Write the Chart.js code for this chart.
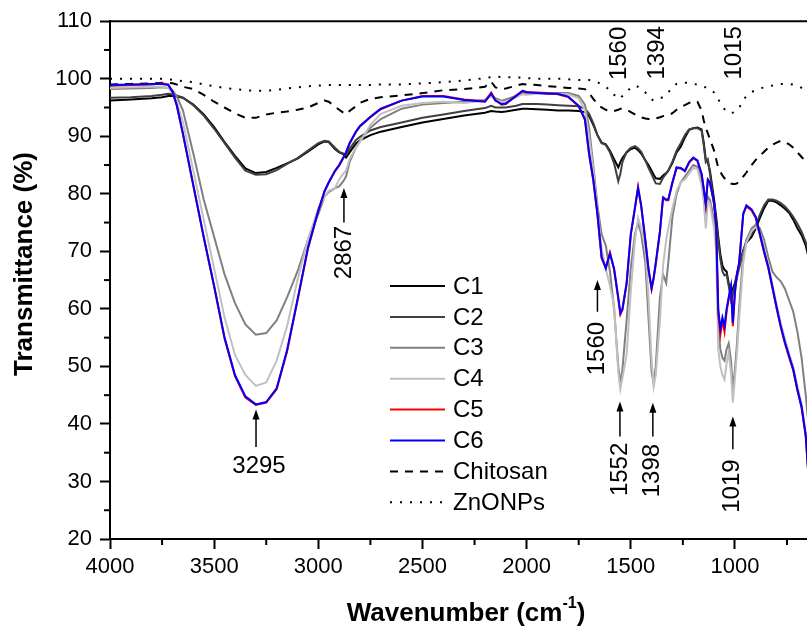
<!DOCTYPE html>
<html>
<head>
<meta charset="utf-8">
<script src="https://cdn.jsdelivr.net/npm/chart.js@4.4.1/dist/chart.umd.min.js"></script>
<style>
  html,body{margin:0;padding:0;background:#fff}
  #wrap{width:807px;height:630px}
</style>
</head>
<body>
<div id="wrap"><canvas id="ftir" width="807" height="630"></canvas></div>
<script>
const FONT = "'Liberation Sans', Arial, sans-serif"

// wavenumber grid (cm-1)
const WAVENUMBER = [
  4000,3900,3800,3750,3720,3700,3680,3650,3600,3550,
  3500,3450,3400,3350,3300,3250,3200,3150,3100,3050,
  3000,2970,2950,2920,2900,2880,2867,2850,2820,2800,
  2750,2700,2600,2500,2400,2300,2200,2170,2150,2120,
  2100,2050,2020,2000,1950,1900,1850,1800,1750,1720,
  1700,1680,1660,1640,1620,1600,1580,1560,1550,1540,
  1520,1500,1480,1465,1450,1430,1415,1400,1390,1380,
  1360,1345,1330,1320,1300,1280,1260,1240,1220,1200,
  1180,1160,1150,1140,1130,1120,1100,1090,1080,1070,
  1060,1050,1040,1030,1019,1010,1000,990,980,960,
  945,920,900,880,860,840,820,800,780,760,
  740,720,700,680,660,650
]

const C1 = [
  96.2,96.4,96.6,96.8,97,97,96.9,96.7,95.5,93.8,
  91.6,89,86.6,84.4,83.6,83.8,84.5,85.3,86.1,87.3,
  88.6,89.1,89,87.8,87.2,86.9,86.3,87.2,88.7,89.3,
  90.2,90.8,91.6,92.4,93,93.6,94.1,94.4,94.3,94.2,
  94.3,94.6,94.8,94.8,94.7,94.6,94.5,94.5,94.4,94.2,
  93.5,92,90.2,88.9,88.6,87.5,86,84.6,85.5,86.2,
  87.2,87.8,88,87.6,87,85.8,85,84,83.3,82.7,
  82.6,83.2,83.6,84,85.4,87.2,88.2,89.8,91.1,91.4,
  91.5,91.2,89,86,85.5,84,79,76,72.5,69.5,
  67.5,66.8,66.5,64.5,62.7,63.5,64.5,66,67.5,70.2,
  71.5,72.5,74,75.8,77.5,78.8,78.8,78.5,78,77.4,
  76.7,75.5,74,72.8,71,69.5
]
const C2 = [
  96.7,96.8,97.0,97.2,97.4,97.3,97.1,96.7,95.4,93.6,
  91.3,88.8,86.3,84,83.3,83.4,84.1,85.2,86.2,87.5,
  88.8,89.2,89.1,88,87.3,87,86.8,87.8,89.3,89.9,
  91,91.6,92.4,93.2,93.8,94.4,94.9,95.3,95,95,
  95,95.3,95.6,95.6,95.6,95.5,95.4,95.3,95.2,94.8,
  93.9,92.3,90.2,88.8,88.5,87.2,85.3,82.2,83.5,85.5,
  87.3,88,88.3,87.9,87.3,85.8,84.5,83.4,82.6,81.8,
  81.7,82.8,83.5,84,85.6,87.5,88.8,90.2,91.2,91.4,
  91.4,91,88.5,85.5,86,83.5,78,75,71.8,68.6,
  66.5,65.8,66,64,61.5,62.5,64,65.5,67,70,
  71.8,73,74.5,76.4,78,79,79,78.8,78.4,77.8,
  77,76,74.8,73.4,71.6,70.5
]
const C3 = [
  98.2,98.3,98.4,98.5,98.4,98.0,97,94.5,87,79,
  72.5,66,61,57.3,55.5,55.8,58,62,66.5,72,
  76.5,79.5,80.3,81,81.3,82.2,83,85.5,88,89.2,
  91.5,93,94.8,95.5,95.8,96,96.3,97.2,96.6,96.2,
  96.4,97,97.5,97.4,97.5,97.5,97.5,97.5,97,95.5,
  91.5,85,78,73,71,66.5,60,50,47,49.5,
  58,67,73,75,73,68,58.5,49,47,50,
  62,66,64.5,68,76,80,82,83,84,85,
  84.7,82,79.5,76,79.5,79,75.5,72,57,53,
  51.5,51,53,54,51,46,49.5,54,60,69.5,
  72,74,74.6,74,72,69,66.5,65.5,64.8,63.5,
  61.5,59.5,56,51.5,45,41
]
const C4 = [
  98.4,98.5,98.6,98.6,98.4,97.5,96,92.5,84,75.5,
  67,58.5,52,48.5,46.6,47.2,51,57,65,72,
  77.5,79.5,80.5,81,82.5,83.5,84,86,88,89,
  92,93.9,95.3,95.8,96,95.8,96.2,97,96.3,96,
  96,96.8,97.3,97.2,97.4,97.4,97.4,97.3,96.6,94.5,
  90,84,77,70.5,67,64,60.5,49,46,48,
  52,63,72,75.8,74,70.5,62,51,46.5,48.5,
  58,67.5,72,74,77.5,80.5,82,82.5,83.5,84.5,
  84.3,81.5,78.8,74,78.5,78.3,74,70,53,50,
  48.5,47.7,50.5,52.4,49,43.7,48,52.4,58,68,
  71.5,73.5,74.2,73.3,70.5,67.8,64.3,60.8,57.5,54.8,
  52.3,50,46.5,43.5,38.5,33
]
const C5 = [
  98.8,98.9,99.0,99.2,99.0,97.7,95.4,90.4,81.4,72.4,
  63.8,54.8,48.3,44.6,43.3,43.7,46.0,52.6,61.4,70.4,
  77,80.4,81.9,83.9,84.9,86.2,87.1,88.7,90.7,91.7,
  93.3,94.7,96.2,97,97,96.4,96.1,97.6,96.3,95.5,
  95.6,97.1,97.8,97.6,97.6,97.5,97.3,96.8,95.2,92.8,
  86.8,82.3,76.3,68.8,67.2,69.8,66.8,61.7,59,59.8,
  64.3,72.8,77.6,81.2,77.8,71.8,66.8,63.4,65.3,67.8,
  73.3,79.3,78.9,78.9,81.9,84.5,84.4,83.9,85.4,86.2,
  85.7,83.4,80.9,78.1,82.4,81.9,78.3,74.3,59,55.5,
  58,56,59.5,61.7,63.7,57,62.7,66,67.8,76.4,
  77.8,77.1,75.8,72.8,69.8,67.1,63.6,60.1,56.8,54,
  51.6,49.3,45.8,42.8,37.8,32.3
]
const C6 = [
  98.9,99.0,99.1,99.1,98.9,97.8,95.5,90.5,81.5,72.5,
  64,55,48.5,44.8,43.4,43.8,46.2,52.8,61.6,70.6,
  77.1,80.5,82,84,85,86.3,87.2,88.8,90.8,91.8,
  93.4,94.8,96.2,96.9,96.9,96.3,96.0,97.4,96.2,95.6,
  95.7,97,97.9,97.7,97.5,97.4,97.4,96.9,95.3,93,
  87,82.5,76.5,69,67,69.6,67,62,59.3,60,
  64.5,73,77.5,81,78,72,67,63.6,65.5,68,
  73.5,79.4,79,79,82,84.6,84.5,84,85.5,86.3,
  85.8,83.5,81,78.3,82.5,82,78.5,74.5,60,56.5,
  58.5,57,60,62,64,57.6,63,66.2,68,76.6,
  78,77.3,76,73,70,67.3,63.8,60.3,57,54.2,
  51.8,49.5,46,43,38,32.5
]
const CHITOSAN = [
  99,99.1,99.2,99.3,99.3,99.2,99,98.6,98.2,97.2,
  96,95,94,93.2,93.2,93.8,94.1,94.3,94.6,95,
  95.8,96.2,96,95.2,94.6,94.1,93.8,94.4,95.2,95.8,
  96.5,96.8,97.1,97.5,98,98.2,98.6,99.5,98.5,98.2,
  98.3,98.8,99.1,99,98.9,98.7,98.6,98.4,98.3,98.2,
  97.5,96.5,95.6,95,94.6,94.4,94.4,94.6,94.8,94.8,
  94.6,94.2,93.8,93.5,93.3,93.1,93,93,93,93.1,
  93.3,93.5,93.6,93.7,94,94.6,95.1,95.4,95.8,96.1,
  96,94.5,92.8,91.5,90.5,89.5,87.5,86,84.5,83.8,
  83.2,82.7,82.3,82,81.8,81.7,81.7,81.8,82.2,83,
  83.7,85,85.9,86.6,87.3,88,88.5,88.9,89.2,89,
  88.6,88,87.2,86.4,85.6,85
]
const ZNONPS = [
  100,100,100,100,99.9,99.8,99.7,99.6,99.4,99,
  98.7,98.4,98.2,98,97.9,97.9,98.1,98.3,98.5,98.7,
  98.8,98.9,98.9,98.9,98.9,98.9,98.9,98.9,98.9,98.9,
  98.9,99,99,99.2,99.4,99.7,100.1,100.3,100.4,100.3,
  100.3,100.2,100.2,100.1,100,100,100,99.9,99.8,99.8,
  99.8,99.6,99.4,99,98.6,98,97.2,96.5,96.7,97,
  97.6,98.5,98.8,98.6,98.2,97.6,97,96.4,96.2,96.3,
  96.6,96.8,97.2,97.6,98.6,99.1,99.3,99.3,99.3,99.1,
  99,98.8,98.6,98.5,98.4,98.2,97.6,97,96.4,95.8,
  95.2,94.7,94.3,94.1,94,94.1,94.4,94.7,94.9,96.3,
  97,97.7,98,98.3,98.5,98.7,98.8,99,99.1,99.1,
  99.1,99,98.8,98.4,98,97.8
]

const X_TICKS = [4000,3500,3000,2500,2000,1500,1000]
const X_MINOR = [3750,3250,2750,2250,1750,1250,750]
const Y_TICKS = [20,30,40,50,60,70,80,90,100,110]
const Y_MINOR = [25,35,45,55,65,75,85,95,105]

// peak labels: wavenumber, arrow tip / tail and label centre in transmittance units
const PEAKS = [
  { text:'3295', wn:3299, tip:42.5, tail:36, at:32.6, rotated:false },
  { text:'2867', wn:2877, tip:81, tail:75, at:69.8, rotated:true },
  { text:'1560', wn:1660, tip:65, tail:59.5, at:53.1, rotated:true },
  { text:'1552', wn:1552, tip:43.9, tail:37.8, at:32.1, rotated:true },
  { text:'1398', wn:1394, tip:43.7, tail:37.8, at:31.9, rotated:true },
  { text:'1019', wn:1010, tip:41.3, tail:35.6, at:29.2, rotated:true }
]
const TOP_LABELS = [
  { text:'1560', wn:1557, at:104.4 },
  { text:'1394', wn:1374, at:104.5 },
  { text:'1015', wn:1005, at:104.5 }
]

const SERIES = [
  { label:'C1', data:C1, color:'#000000', dash:[], order:5 },
  { label:'C2', data:C2, color:'#404040', dash:[], order:4 },
  { label:'C3', data:C3, color:'#808080', dash:[], order:3 },
  { label:'C4', data:C4, color:'#c0c0c0', dash:[], order:2 },
  { label:'C5', data:C5, color:'#ff0000', dash:[], order:1 },
  { label:'C6', data:C6, color:'#0000ff', dash:[], order:0 },
  { label:'Chitosan', data:CHITOSAN, color:'#000000', dash:[8,7], order:6 },
  { label:'ZnONPs', data:ZNONPS, color:'#000000', dash:[2,8], order:7 }
]

function arrow(ctx, x, y0, y1) {
  ctx.beginPath(); ctx.moveTo(x, y0); ctx.lineTo(x, y1 + 8); ctx.stroke()
  ctx.beginPath(); ctx.moveTo(x, y1); ctx.lineTo(x - 3.5, y1 + 10); ctx.lineTo(x + 3.5, y1 + 10); ctx.closePath(); ctx.fill()
}

function vtext(ctx, text, x, y) {
  ctx.save(); ctx.translate(x, y); ctx.rotate(-Math.PI / 2)
  ctx.textAlign = 'center'; ctx.textBaseline = 'middle'
  ctx.fillText(text, 0, 0); ctx.restore()
}

const decor = {
  id:'decor',
  afterDraw(chart) {
    const { ctx, chartArea:a, scales:{ x, y } } = chart
    ctx.save()
    ctx.strokeStyle = '#000'; ctx.fillStyle = '#000'

    // top frame line
    ctx.lineWidth = 2
    ctx.beginPath(); ctx.moveTo(a.left - 1, a.top); ctx.lineTo(a.right, a.top); ctx.stroke()

    // minor ticks
    X_MINOR.forEach(v => { const px = x.getPixelForValue(v); ctx.beginPath(); ctx.moveTo(px, a.bottom); ctx.lineTo(px, a.bottom + 6); ctx.stroke() })
    Y_MINOR.forEach(v => { const py = y.getPixelForValue(v); ctx.beginPath(); ctx.moveTo(a.left, py); ctx.lineTo(a.left - 6, py); ctx.stroke() })

    // legend
    ctx.font = `24px ${FONT}`; ctx.textAlign = 'left'; ctx.textBaseline = 'middle'
    SERIES.forEach((s, i) => {
      const ly = 286 + i * 30.9
      ctx.strokeStyle = s.color; ctx.lineWidth = 2; ctx.setLineDash(s.dash)
      ctx.beginPath(); ctx.moveTo(390, ly); ctx.lineTo(445, ly); ctx.stroke()
      ctx.setLineDash([])
      ctx.fillStyle = '#000'; ctx.fillText(s.label, 453, ly + 1)
    })

    // peak labels and arrows
    ctx.strokeStyle = '#000'; ctx.fillStyle = '#000'; ctx.lineWidth = 1.5
    PEAKS.forEach(p => {
      const px = x.getPixelForValue(p.wn)
      arrow(ctx, px, y.getPixelForValue(p.tail), y.getPixelForValue(p.tip))
      const ty = y.getPixelForValue(p.at)
      if (p.rotated) vtext(ctx, p.text, px, ty)
      else { ctx.textAlign = 'center'; ctx.textBaseline = 'middle'; ctx.fillText(p.text, px + 3, ty) }
    })
    TOP_LABELS.forEach(p => vtext(ctx, p.text, x.getPixelForValue(p.wn), y.getPixelForValue(p.at)))

    // axis titles
    ctx.font = `bold 26px ${FONT}`
    vtext(ctx, 'Transmittance (%)', 25, 264)
    const main = 'Wavenumber (cm', sup = '-1', tail = ')'
    ctx.font = `bold 26px ${FONT}`
    const w1 = ctx.measureText(main).width, w3 = ctx.measureText(tail).width
    ctx.font = `bold 16px ${FONT}`
    const w2 = ctx.measureText(sup).width
    let sx = 466 - (w1 + w2 + w3) / 2
    ctx.textAlign = 'left'; ctx.textBaseline = 'alphabetic'
    ctx.font = `bold 26px ${FONT}`; ctx.fillText(main, sx, 621)
    ctx.font = `bold 16px ${FONT}`; ctx.fillText(sup, sx + w1, 608)
    ctx.font = `bold 26px ${FONT}`; ctx.fillText(tail, sx + w1 + w2, 621)
    ctx.restore()
  }
}

new Chart(document.getElementById('ftir'), {
  type:'line',
  data:{
    datasets:SERIES.map(s => ({
      label:s.label,
      data:WAVENUMBER.map((w, i) => ({ x:w, y:s.data[i] })),
      borderColor:s.color, borderWidth:2, borderDash:s.dash,
      pointRadius:0, tension:0, fill:false, order:s.order
    }))
  },
  options:{
    responsive:false, animation:false, devicePixelRatio:1,
    layout:{ padding:{ top:20, right:0, left:0, bottom:0 } },
    plugins:{ legend:{ display:false }, tooltip:{ enabled:false } },
    scales:{
      x:{
        type:'linear', reverse:true, min:654, max:4000,
        afterBuildTicks:s => { s.ticks = X_TICKS.map(v => ({ value:v })) },
        afterFit:s => { s.height = 91; s.paddingLeft = 0; s.paddingRight = 0 },
        ticks:{ color:'#000', font:{ family:FONT, size:22 }, padding:5, maxRotation:0, autoSkip:false, callback:v => String(v) },
        grid:{ drawOnChartArea:false, tickLength:10, tickColor:'#000', tickWidth:2 },
        border:{ color:'#000', width:2 }
      },
      y:{
        min:20, max:110,
        afterBuildTicks:s => { s.ticks = Y_TICKS.map(v => ({ value:v })) },
        afterFit:s => { s.width = 110 },
        ticks:{ color:'#000', font:{ family:FONT, size:22 }, padding:8, callback:v => String(v) },
        grid:{ drawOnChartArea:false, tickLength:10, tickColor:'#000', tickWidth:2 },
        border:{ color:'#000', width:2 }
      }
    }
  },
  plugins:[decor]
})
</script>
</body>
</html>
